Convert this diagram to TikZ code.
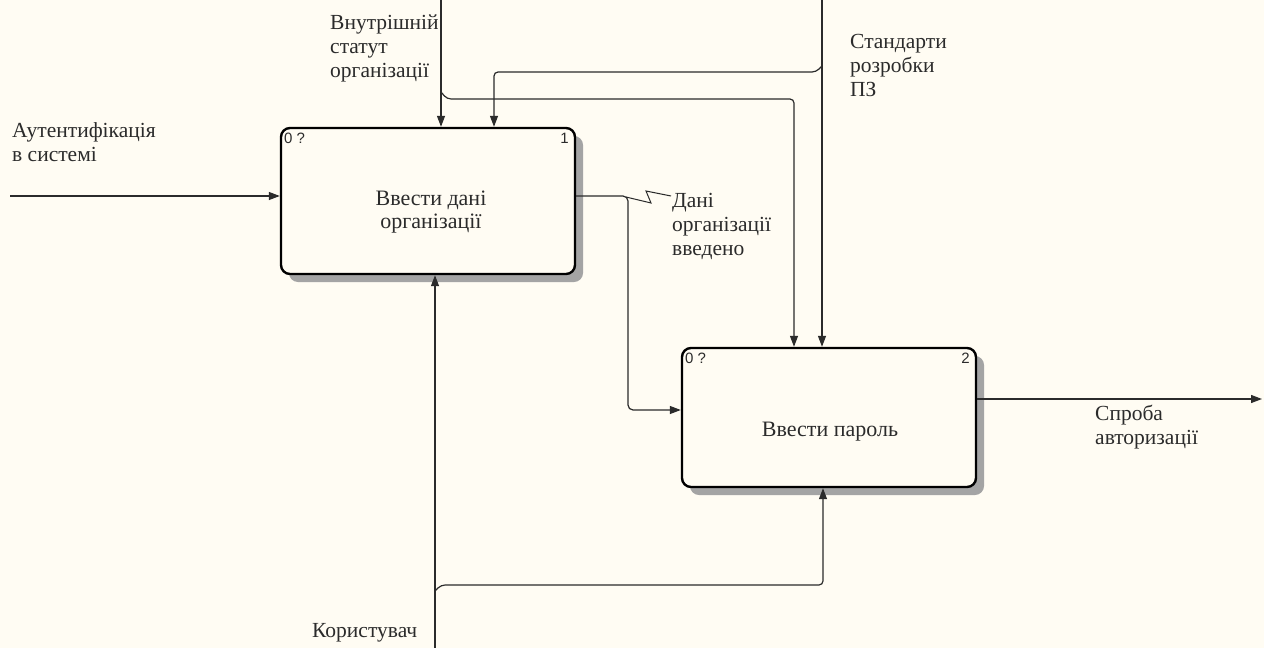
\documentclass[tikz,border=0pt]{standalone}
\usepackage{fontspec}
\setmainfont{Liberation Serif}
\setsansfont{Liberation Sans}
\usetikzlibrary{arrows.meta,shadows}
\definecolor{paper}{HTML}{FFFCF3}
\definecolor{ink}{HTML}{2B2B2B}
\definecolor{shade}{HTML}{A4A4A4}
\begin{document}
\begin{tikzpicture}[x=1pt,y=-1pt,
  fn/.style={draw=black, line width=2.4pt, rounded corners=9pt, fill=paper,
    minimum width=294pt, inner sep=0,
    drop shadow={shadow xshift=8pt, shadow yshift=-8pt, fill=shade, opacity=1}},
  boxtext/.style={inner sep=0, align=center, font=\fontsize{22}{23}\selectfont, text=ink},
  lbl/.style={inner sep=0, anchor=base west, align=left, font=\fontsize{21.5}{24}\selectfont, text=ink},
  tag/.style={inner sep=0, font=\sffamily\fontsize{15}{15}\selectfont, text=ink},
  flow/.style={draw=ink, line width=1.2pt, rounded corners=5pt, -{Triangle[length=11pt,width=8pt]}},
  zig/.style={draw=ink, line width=1pt}]

% page
\fill[paper] (0,0) rectangle (1264,648);
\useasboundingbox (0,0) rectangle (1264,648);

% activity boxes
\node[fn, minimum height=146pt] (b1) at (428,201) {};
\node[fn, minimum height=139pt] (b2) at (829,417.5) {};
\node[boxtext] (t1) at (431,212) {Ввести дані\\організації};
\node[boxtext, anchor=base] (t2) at (830,436) {Ввести пароль};
\node[tag, anchor=north west] (n1) at (284,133) {0 ?};
\node[tag, anchor=north east] (k1) at (569,133) {1};
\node[tag, anchor=north west] (n2) at (685,353) {0 ?};
\node[tag, anchor=north east] (k2) at (970,353) {2};

% free ends of the boundary arrows
\coordinate (inL) at (10,196);
\coordinate (ctlA) at (441,0);
\coordinate (ctlB) at (822,0);
\coordinate (mech) at (435,648);
\coordinate (outR) at (1262,399);

% input
\draw[flow] (inL) -- (b1.west |- inL);

% controls
\draw[flow] (ctlA) -- (ctlA |- b1.north);
\draw[flow, rounded corners=4pt] (441,92) -- (447,99) -- (794,99) -- (794,0 |- b2.north);
\draw[flow] (ctlB) -- (ctlB |- b2.north);
\draw[flow, rounded corners=4pt] (822,66) -- (816,72) -- (494,72) -- (494,0 |- b1.north);

% mechanism
\draw[flow] (mech) -- (mech |- b1.south);
\draw[flow, rounded corners=4pt] (435,591) -- (441,585) -- (823,585) -- (823,0 |- b2.south);

% output of the first activity into the second
\draw[flow] (b1.east |- 0,196) -- (628,196) -- (628,410) -- (b2.west |- 0,410);
\draw[zig] (626,197) -- (651,203) -- (646,191) -- (671,196);

% final output
\draw[flow] (b2.east |- outR) -- (outR);

% arrow labels (anchored at the baseline of their last line)
\node[lbl] (lA) at (330,77) {Внутрішній\\статут\\організації};
\node[lbl] (lB) at (850,96) {Стандарти\\розробки\\ПЗ};
\node[lbl] (lC) at (12,161) {Аутентифікація\\в системі};
\node[lbl] (lD) at (672,255) {Дані\\організації\\введено};
\node[lbl] (lE) at (1095,444) {Спроба\\авторизації};
\node[lbl] (lF) at (312,637) {Користувач};
\end{tikzpicture}
\end{document}
